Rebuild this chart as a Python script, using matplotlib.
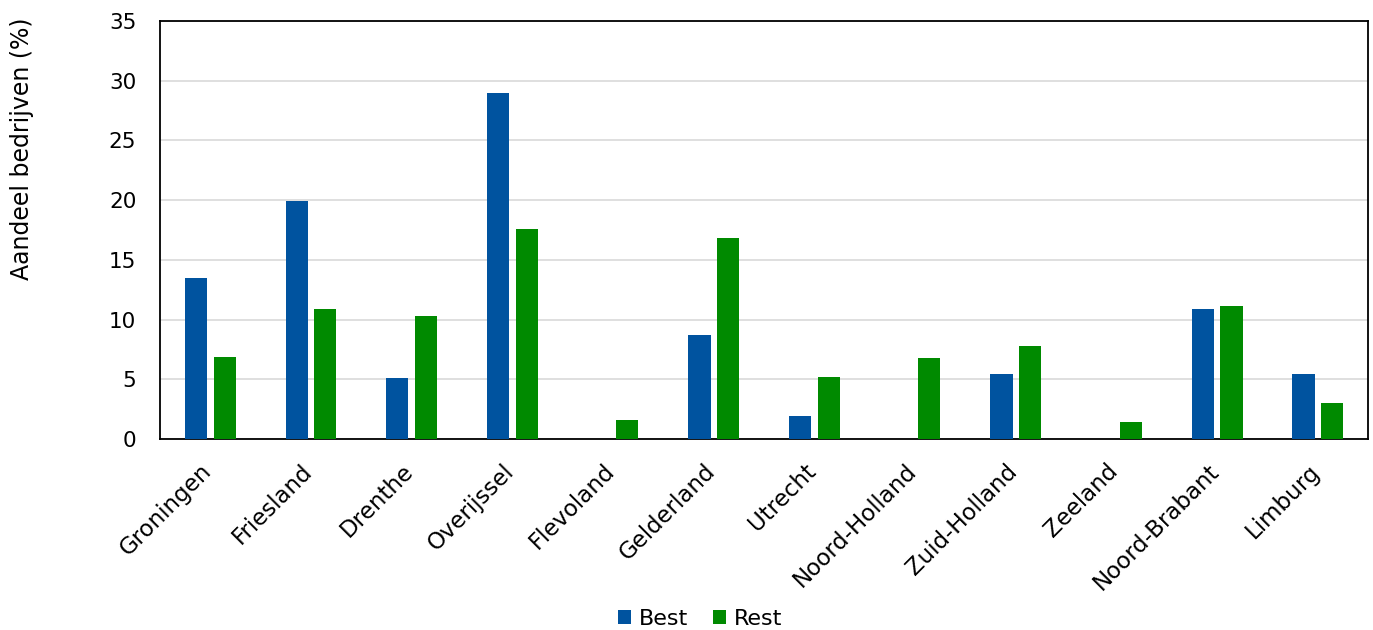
import numpy as np
import matplotlib
matplotlib.use("Agg")
import matplotlib.pyplot as plt
from matplotlib.transforms import ScaledTranslation

provincies = ["Groningen", "Friesland", "Drenthe", "Overijssel", "Flevoland",
              "Gelderland", "Utrecht", "Noord-Holland", "Zuid-Holland",
              "Zeeland", "Noord-Brabant", "Limburg"]
best = [13.5, 19.9, 5.1, 29.0, 0.0, 8.7, 1.9, 0.0, 5.4, 0.0, 10.9, 5.4]
rest = [6.9, 10.9, 10.3, 17.6, 1.6, 16.8, 5.2, 6.8, 7.8, 1.4, 11.1, 3.0]

plt.rcParams['font.family'] = ['DejaVu Sans']

fig = plt.figure(figsize=(13.73, 6.30), dpi=100)
ax = fig.add_axes([0.1165, 0.3032, 0.880, 0.6635])

x = np.arange(len(provincies))
w = 0.22
ax.bar(x - 0.142, best, width=w, color="#00539f", label="Best", zorder=3)
ax.bar(x + 0.142, rest, width=w, color="#008a00", label="Rest", zorder=3)

ax.set_xlim(-0.5, len(provincies) - 0.5)
ax.set_ylim(0, 35)
ax.set_yticks(range(0, 36, 5))
ax.yaxis.grid(True, color="#d9d9d9", linewidth=1.2, zorder=0)
ax.set_axisbelow(True)

for s in ax.spines.values():
    s.set_color("black")
    s.set_linewidth(1.3)

ax.tick_params(axis="both", length=0, colors="black")
ax.tick_params(axis="y", labelsize=15.5, pad=17)
ax.tick_params(axis="x", labelsize=16.5, pad=12)
ax.set_xticks(x)
ax.set_xticklabels(provincies, rotation=45, ha="right", rotation_mode="anchor")
# schuif de schuine labels iets naar links/onder
shift = ScaledTranslation(-10 / 100, -4 / 100, fig.dpi_scale_trans)
for lbl in ax.get_xticklabels():
    lbl.set_transform(lbl.get_transform() + shift)

ax.set_ylabel("Aandeel bedrijven (%)", fontsize=17)
ax.yaxis.set_label_coords(-0.104, 0.694)

fig.legend(*ax.get_legend_handles_labels(), loc="center", bbox_to_anchor=(0.510, 0.018),
           ncol=2, frameon=False, fontsize=16, handlelength=0.6, handleheight=0.6,
           handletextpad=0.35, columnspacing=1.1)

fig.savefig("out.png", dpi=100)
